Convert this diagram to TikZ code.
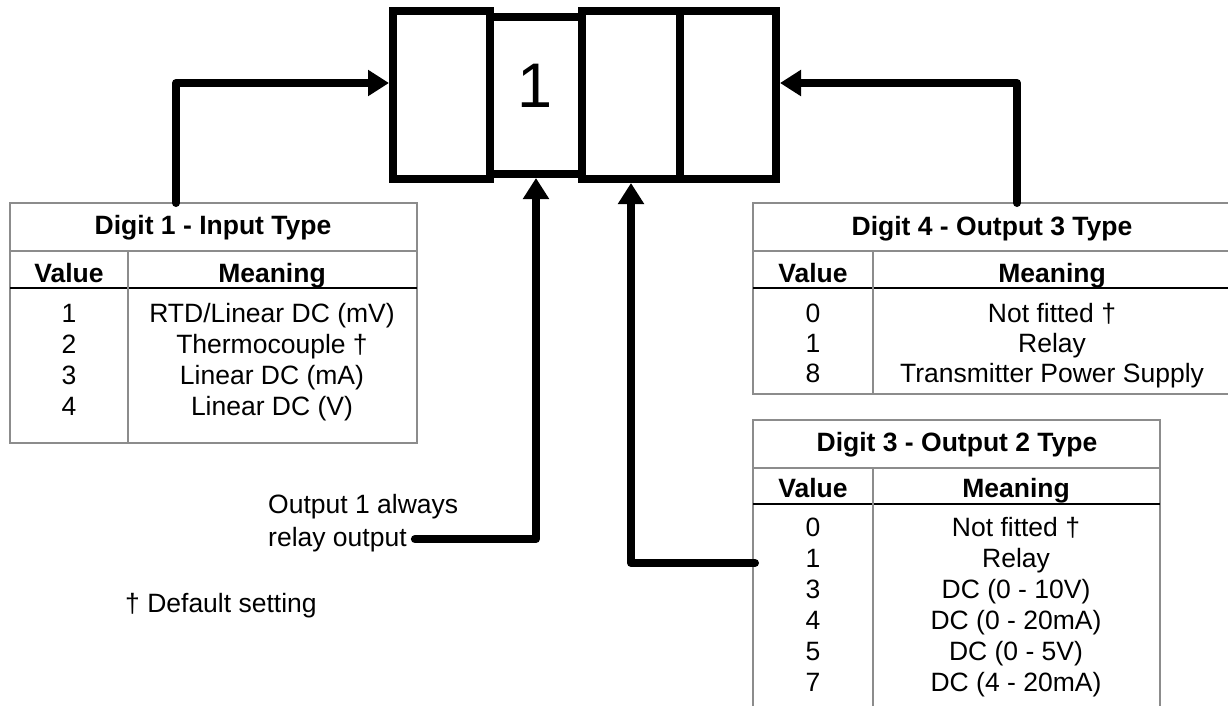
\documentclass[tikz,border=0pt]{standalone}
\usepackage{fontspec}
\setmainfont{Liberation Sans}
\usepackage{xcolor}
\usetikzlibrary{arrows.meta,positioning}
\definecolor{rulegray}{HTML}{8C8C8C}
\tikzset{
  digbox/.style={draw,line width=8pt,inner sep=0pt,minimum height=168pt},
  ar/.style={-{Triangle[length=21pt,width=25pt]},line width=8pt,line cap=round,line join=round},
  frame/.style={draw=rulegray,line width=1.3pt},
  hline/.style={black,line width=1.3pt},
  txt/.style={font=\fontsize{26.5}{31}\selectfont,anchor=base,inner sep=0pt},
  ttl/.style={txt,font=\fontsize{26.5}{31}\selectfont\bfseries}
}

\begin{document}
\begin{tikzpicture}[x=1pt,y=-1pt]
\useasboundingbox (0,0) rectangle (1228,705);
\clip (0,0) rectangle (1228,705);

% digit boxes
\node[digbox,minimum width=97pt] (d1) at (441.5,95) {};
\node[digbox,minimum width=98pt] (d3) at (631,95) {};
\node[digbox,minimum width=96pt] (d4) at (728,95) {};
\node[digbox,minimum width=92pt,minimum height=157pt] (d2) at (536,95.5) {};
\node[font=\fontsize{63}{70}\selectfont,inner sep=0pt] (one) at (535,86) {1};

% table: digit 1
\draw[frame] (10,203) rectangle (417,443);
\draw[frame] (10,251) -- (417,251);
\draw[hline] (10,288) -- (417,288);
\draw[frame] (128,251) -- (128,443);
\node[ttl] (t1) at (213,234.5) {Digit 1 - Input Type};
\node[ttl] (t1v) at (69,282) {Value};
\node[ttl] (t1m) at (272,282) {Meaning};
\foreach \v/\m [count=\i] in {1/{RTD/Linear DC (mV)},2/{Thermocouple †},3/{Linear DC (mA)},4/{Linear DC (V)}}{
  \node[txt] (a\i) at (69,{322.5+31*(\i-1)}) {\v};
  \node[txt] (b\i) at (272,{322.5+31*(\i-1)}) {\m};
}

% table: digit 4
\draw[frame] (1240,203) -- (753,203) -- (753,394) -- (1240,394);
\draw[frame] (753,251) -- (1240,251);
\draw[hline] (753,288) -- (1240,288);
\draw[frame] (873,251) -- (873,394);
\node[ttl] (t4) at (992,235.5) {Digit 4 - Output 3 Type};
\node[ttl] (t4v) at (813,282) {Value};
\node[ttl] (t4m) at (1052,282) {Meaning};
\foreach \v/\m [count=\i] in {0/{Not fitted †},1/Relay,8/{Transmitter Power Supply}}{
  \node[txt] (c\i) at (813,{322.5+30*(\i-1)}) {\v};
  \node[txt] (e\i) at (1052,{322.5+30*(\i-1)}) {\m};
}

% table: digit 3
\draw[frame] (753,720) -- (753,420) -- (1160,420) -- (1160,720);
\draw[frame] (753,468) -- (1160,468);
\draw[hline] (753,504) -- (1160,504);
\draw[frame] (873,468) -- (873,720);
\node[ttl] (t3) at (957,451.5) {Digit 3 - Output 2 Type};
\node[ttl] (t3v) at (813,497.5) {Value};
\node[ttl] (t3m) at (1016,497.5) {Meaning};
\foreach \v/\m [count=\i] in {0/{Not fitted †},1/Relay,3/{DC (0 - 10V)},4/{DC (0 - 20mA)},5/{DC (0 - 5V)},7/{DC (4 - 20mA)}}{
  \node[txt] (f\i) at (813,{536.5+31*(\i-1)}) {\v};
  \node[txt] (g\i) at (1016,{536.5+31*(\i-1)}) {\m};
}

% free texts
\node[txt,anchor=base west] (out1) at (268,513) {Output 1 always};
\node[txt,anchor=base west,inner xsep=8pt] (rly) at (260,546) {relay output};
\node[txt,anchor=base west] (note) at (125,612.5) {† Default setting};

% connectors
\coordinate (p1) at (176,203);
\coordinate (p4) at (1017,203);
\coordinate (p3) at (755,563);
\draw[ar] (p1) |- ([yshift=12pt]d1.west);
\draw[ar] (p4) |- ([yshift=12pt]d4.east);
\draw[ar] (rly.east) -| (d2.south);
\draw[ar] (p3) -| (d3.south);
\end{tikzpicture}
\end{document}
